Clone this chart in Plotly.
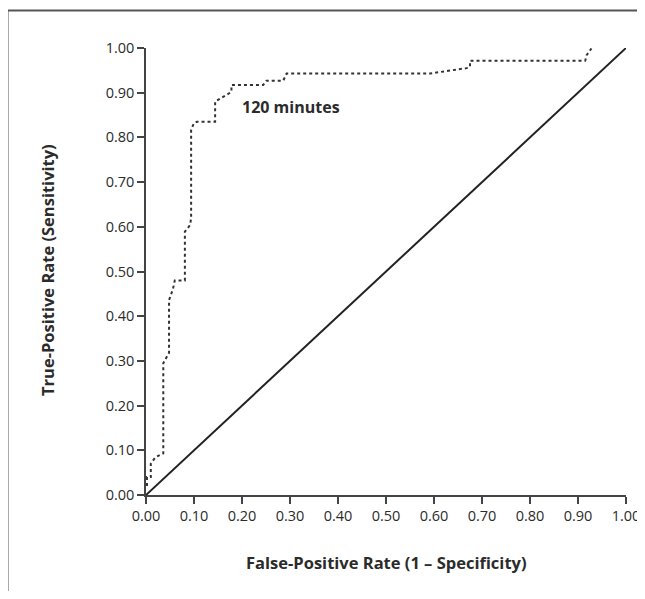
import plotly.graph_objects as go

# ROC curve (120 minutes)
fpr = [0.002, 0.002, 0.010, 0.010, 0.020, 0.036, 0.036, 0.048, 0.048, 0.056, 0.060, 0.081,
       0.081, 0.092, 0.094, 0.094, 0.100, 0.106, 0.144, 0.144, 0.168, 0.178, 0.178, 0.244,
       0.251, 0.286, 0.293, 0.592, 0.668, 0.675, 0.675, 0.915, 0.918, 0.924, 0.928]
tpr = [0.020, 0.040, 0.040, 0.070, 0.085, 0.093, 0.295, 0.318, 0.436, 0.460, 0.480, 0.480,
       0.589, 0.604, 0.620, 0.817, 0.832, 0.835, 0.835, 0.880, 0.895, 0.902, 0.917, 0.917,
       0.927, 0.927, 0.943, 0.943, 0.955, 0.958, 0.9715, 0.9715, 0.984, 0.994, 0.999]
ref_x = [0.0, 1.0]
ref_y = [0.0, 1.0]
tick_vals = [0.0, 0.1, 0.2, 0.3, 0.4, 0.5, 0.6, 0.7, 0.8, 0.9, 1.0]
tick_text = ["0.00", "0.10", "0.20", "0.30", "0.40", "0.50", "0.60", "0.70", "0.80", "0.90", "1.00"]
curve_label = "120 minutes"
x_title = "False-Positive Rate (1 – Specificity)"
y_title = "True-Positive Rate (Sensitivity)"

OFF = 8  # page body margin
W, H = 645 - OFF, 599 - 2 * OFF
L, T = 146 - OFF, 48 - OFF
pw, ph = 480, 447
R, B = W - L - pw, H - T - ph

def px_to_paper_x(px):
    return (px - OFF - L) / pw

def py_to_paper_y(py):
    return (T + ph - (py - OFF)) / ph

FONT = "Open Sans"
TXT = "#2b2b2b"

fig = go.Figure()
fig.add_trace(go.Scatter(x=ref_x, y=ref_y, mode="lines",
                         line=dict(color="#222222", width=2), cliponaxis=False,
                         showlegend=False, hoverinfo="skip"))
fig.add_trace(go.Scatter(x=fpr, y=tpr, mode="lines",
                         line=dict(color="#333333", width=2, dash="dot"), cliponaxis=False,
                         showlegend=False))

axis_common = dict(range=[0, 1], tickvals=tick_vals, ticktext=tick_text,
                   showgrid=False, zeroline=False, showline=True,
                   linecolor="#444444", linewidth=1.5, ticks="outside",
                   ticklen=7, tickwidth=1.5, tickcolor="#444444",
                   ticklabeloverflow="allow",
                   tickfont=dict(family=FONT, size=14.5, color=TXT))

fig.update_layout(
    width=W, height=H, autosize=False,
    margin=dict(l=L, r=R, t=T, b=B, pad=0, autoexpand=False),
    paper_bgcolor="white", plot_bgcolor="white",
    xaxis=axis_common,
    yaxis=axis_common,
    showlegend=False,
    shapes=[dict(type="rect", xref="paper", yref="paper",
                 x0=px_to_paper_x(7.5), x1=px_to_paper_x(700),
                 y0=py_to_paper_y(700), y1=py_to_paper_y(10.5),
                 line=dict(color="#555555", width=2), layer="below")],
    annotations=[
        dict(text=curve_label, x=0.196, y=0.868, xref="x", yref="y",
             xanchor="left", yanchor="middle", showarrow=False,
             font=dict(family=FONT, size=16, color=TXT, weight="bold")),
        dict(text=x_title, x=0.5, y=py_to_paper_y(562), xref="paper", yref="paper",
             xanchor="center", yanchor="middle", showarrow=False,
             font=dict(family=FONT, size=16.5, color=TXT, weight="bold")),
        dict(text=y_title, x=px_to_paper_x(47), y=py_to_paper_y(270), xref="paper", yref="paper",
             xanchor="center", yanchor="middle", showarrow=False, textangle=-90,
             font=dict(family=FONT, size=16.5, color=TXT, weight="bold")),
    ],
)

fig.write_html("out.html")
